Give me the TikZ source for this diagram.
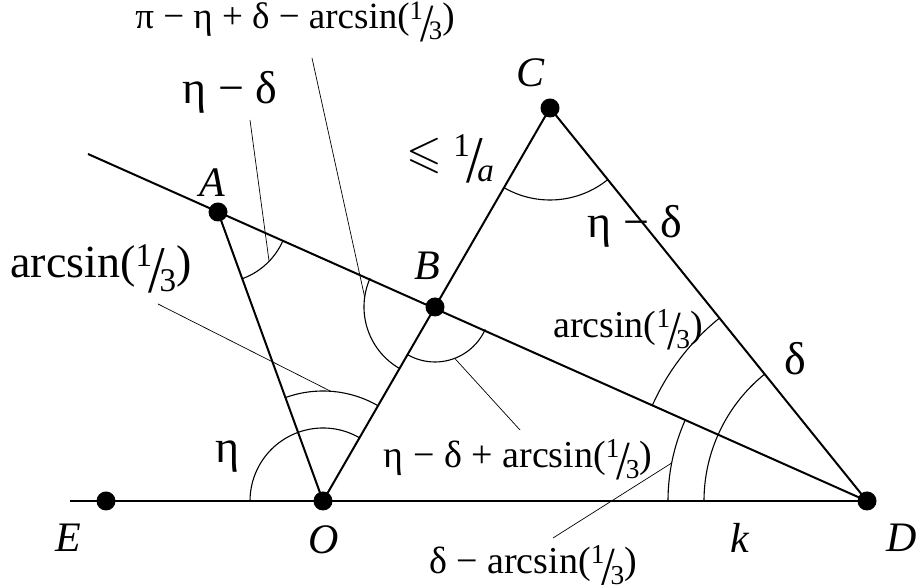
\documentclass[tikz,border=0pt]{standalone}
\usepackage{fontspec}
\usepackage{amssymb}
\setmainfont{Liberation Serif}
\newcommand{\ofrac}[2]{\raisebox{.24em}{\scalebox{.72}{#1}}\kern-.08em\raisebox{-.33em}{\scalebox{1.3}[1.45]{/}}\kern-.12em\raisebox{-.3em}{\scalebox{.72}{#2}}}

\begin{document}
\begin{tikzpicture}[
    x=1pt, y=1pt,
    line/.style={line width=2pt},
    arcline/.style={line width=1.1pt},
    ptr/.style={line width=0.7pt},
    dot/.style={circle, fill=black, inner sep=0pt, minimum size=19pt},
    ptlbl/.style={inner sep=0pt, font=\fontsize{42}{48}\selectfont\itshape},
    biglbl/.style={inner sep=0pt, font=\fontsize{46}{52}\selectfont},
    toplbl/.style={inner sep=0pt, font=\fontsize{37}{44}\selectfont},
    midlbl/.style={inner sep=0pt, font=\fontsize{38}{46}\selectfont},
]
\useasboundingbox (0,0) rectangle (919,585);

% --- Points ---
\coordinate (O) at (323,84);
\coordinate (D) at (867,84);
\coordinate (E) at (106,84);
\coordinate (C) at (550,477);
\coordinate (A) at (218,373);
\coordinate (B) at (435,278);
\coordinate (L0) at (88,431);
\coordinate (L1) at (70,84);

% --- Lines ---
\draw[line] (L1) -- (D);
\draw[line] (L0) -- (D);
\draw[line] (A) -- (O) -- (C) -- (D);

% --- Angle arcs ---
\draw[arcline] ([shift={(60:73)}]O) arc[start angle=60, end angle=180, radius=73];
\draw[arcline] ([shift={(60:110)}]O) arc[start angle=60, end angle=110, radius=110];
\draw[arcline] ([shift={(-70:71)}]A) arc[start angle=-70, end angle=-24, radius=71];
\draw[arcline] ([shift={(156:71)}]B) arc[start angle=156, end angle=240, radius=71];
\draw[arcline] ([shift={(240:55)}]B) arc[start angle=240, end angle=336, radius=55];
\draw[arcline] ([shift={(240:92)}]C) arc[start angle=240, end angle=309, radius=92];
\draw[arcline] ([shift={(129:163)}]D) arc[start angle=129, end angle=180, radius=163];
\draw[arcline] ([shift={(129:235)}]D) arc[start angle=129, end angle=156, radius=235];
\draw[arcline] ([shift={(156:199)}]D) arc[start angle=156, end angle=180, radius=199];

% --- Dots ---
\foreach \p in {O,D,E,C,A,B}
    \node[dot] (d\p) at (\p) {};

% --- Point labels ---
\node[ptlbl] (lA) at (212,402) {A};
\node[ptlbl] (lB) at (427,319) {B};
\node[ptlbl] (lC) at (531,512) {C};
\node[ptlbl] (lE) at (68,47) {E};
\node[ptlbl] (lO) at (324,45) {O};
\node[ptlbl] (lk) at (740,47) {k};
\node[ptlbl] (lD) at (902,47) {D};

% --- Angle labels ---
\node[biglbl] (tArcO) at (101,316) {arcsin(\ofrac13)};
\node[biglbl] (tEtaA) at (230,493) {η − δ};
\node[biglbl] (tEtaC) at (635,359) {η − δ};
\node[biglbl] (tEta) at (228,128) {η};
\node[biglbl] (tDelta) at (795,226) {δ};
\node[biglbl] (tLeq) at (450,426) {$\leqslant$\,\kern.08em\ofrac1{\itshape a}};
\node[toplbl] (tTop) at (295,563) {π − η + δ − arcsin(\ofrac13)};
\node[midlbl] (tB2) at (518,125) {η − δ + arcsin(\ofrac13)};
\node[midlbl] (tDA) at (533,19) {δ − arcsin(\ofrac13)};
\node[midlbl] (tArcD) at (628,255) {arcsin(\ofrac13)};

% --- Pointers ---
\coordinate (pArcO) at (158,281);
\coordinate (pEtaA) at (250,465);
\coordinate (pTop) at (312,527);
\coordinate (pB2) at (520,155);
\coordinate (pDA) at (553,47);
\draw[ptr] (pArcO) -- ([shift={(86:110)}]O);
\draw[ptr] (pEtaA) -- ([shift={(-44:71)}]A);
\draw[ptr] (pTop) -- ([shift={(172:71)}]B);
\draw[ptr] ([shift={(291:55)}]B) -- (pB2);
\draw[ptr] ([shift={(169:199)}]D) -- (pDA);

\end{tikzpicture}
\end{document}
